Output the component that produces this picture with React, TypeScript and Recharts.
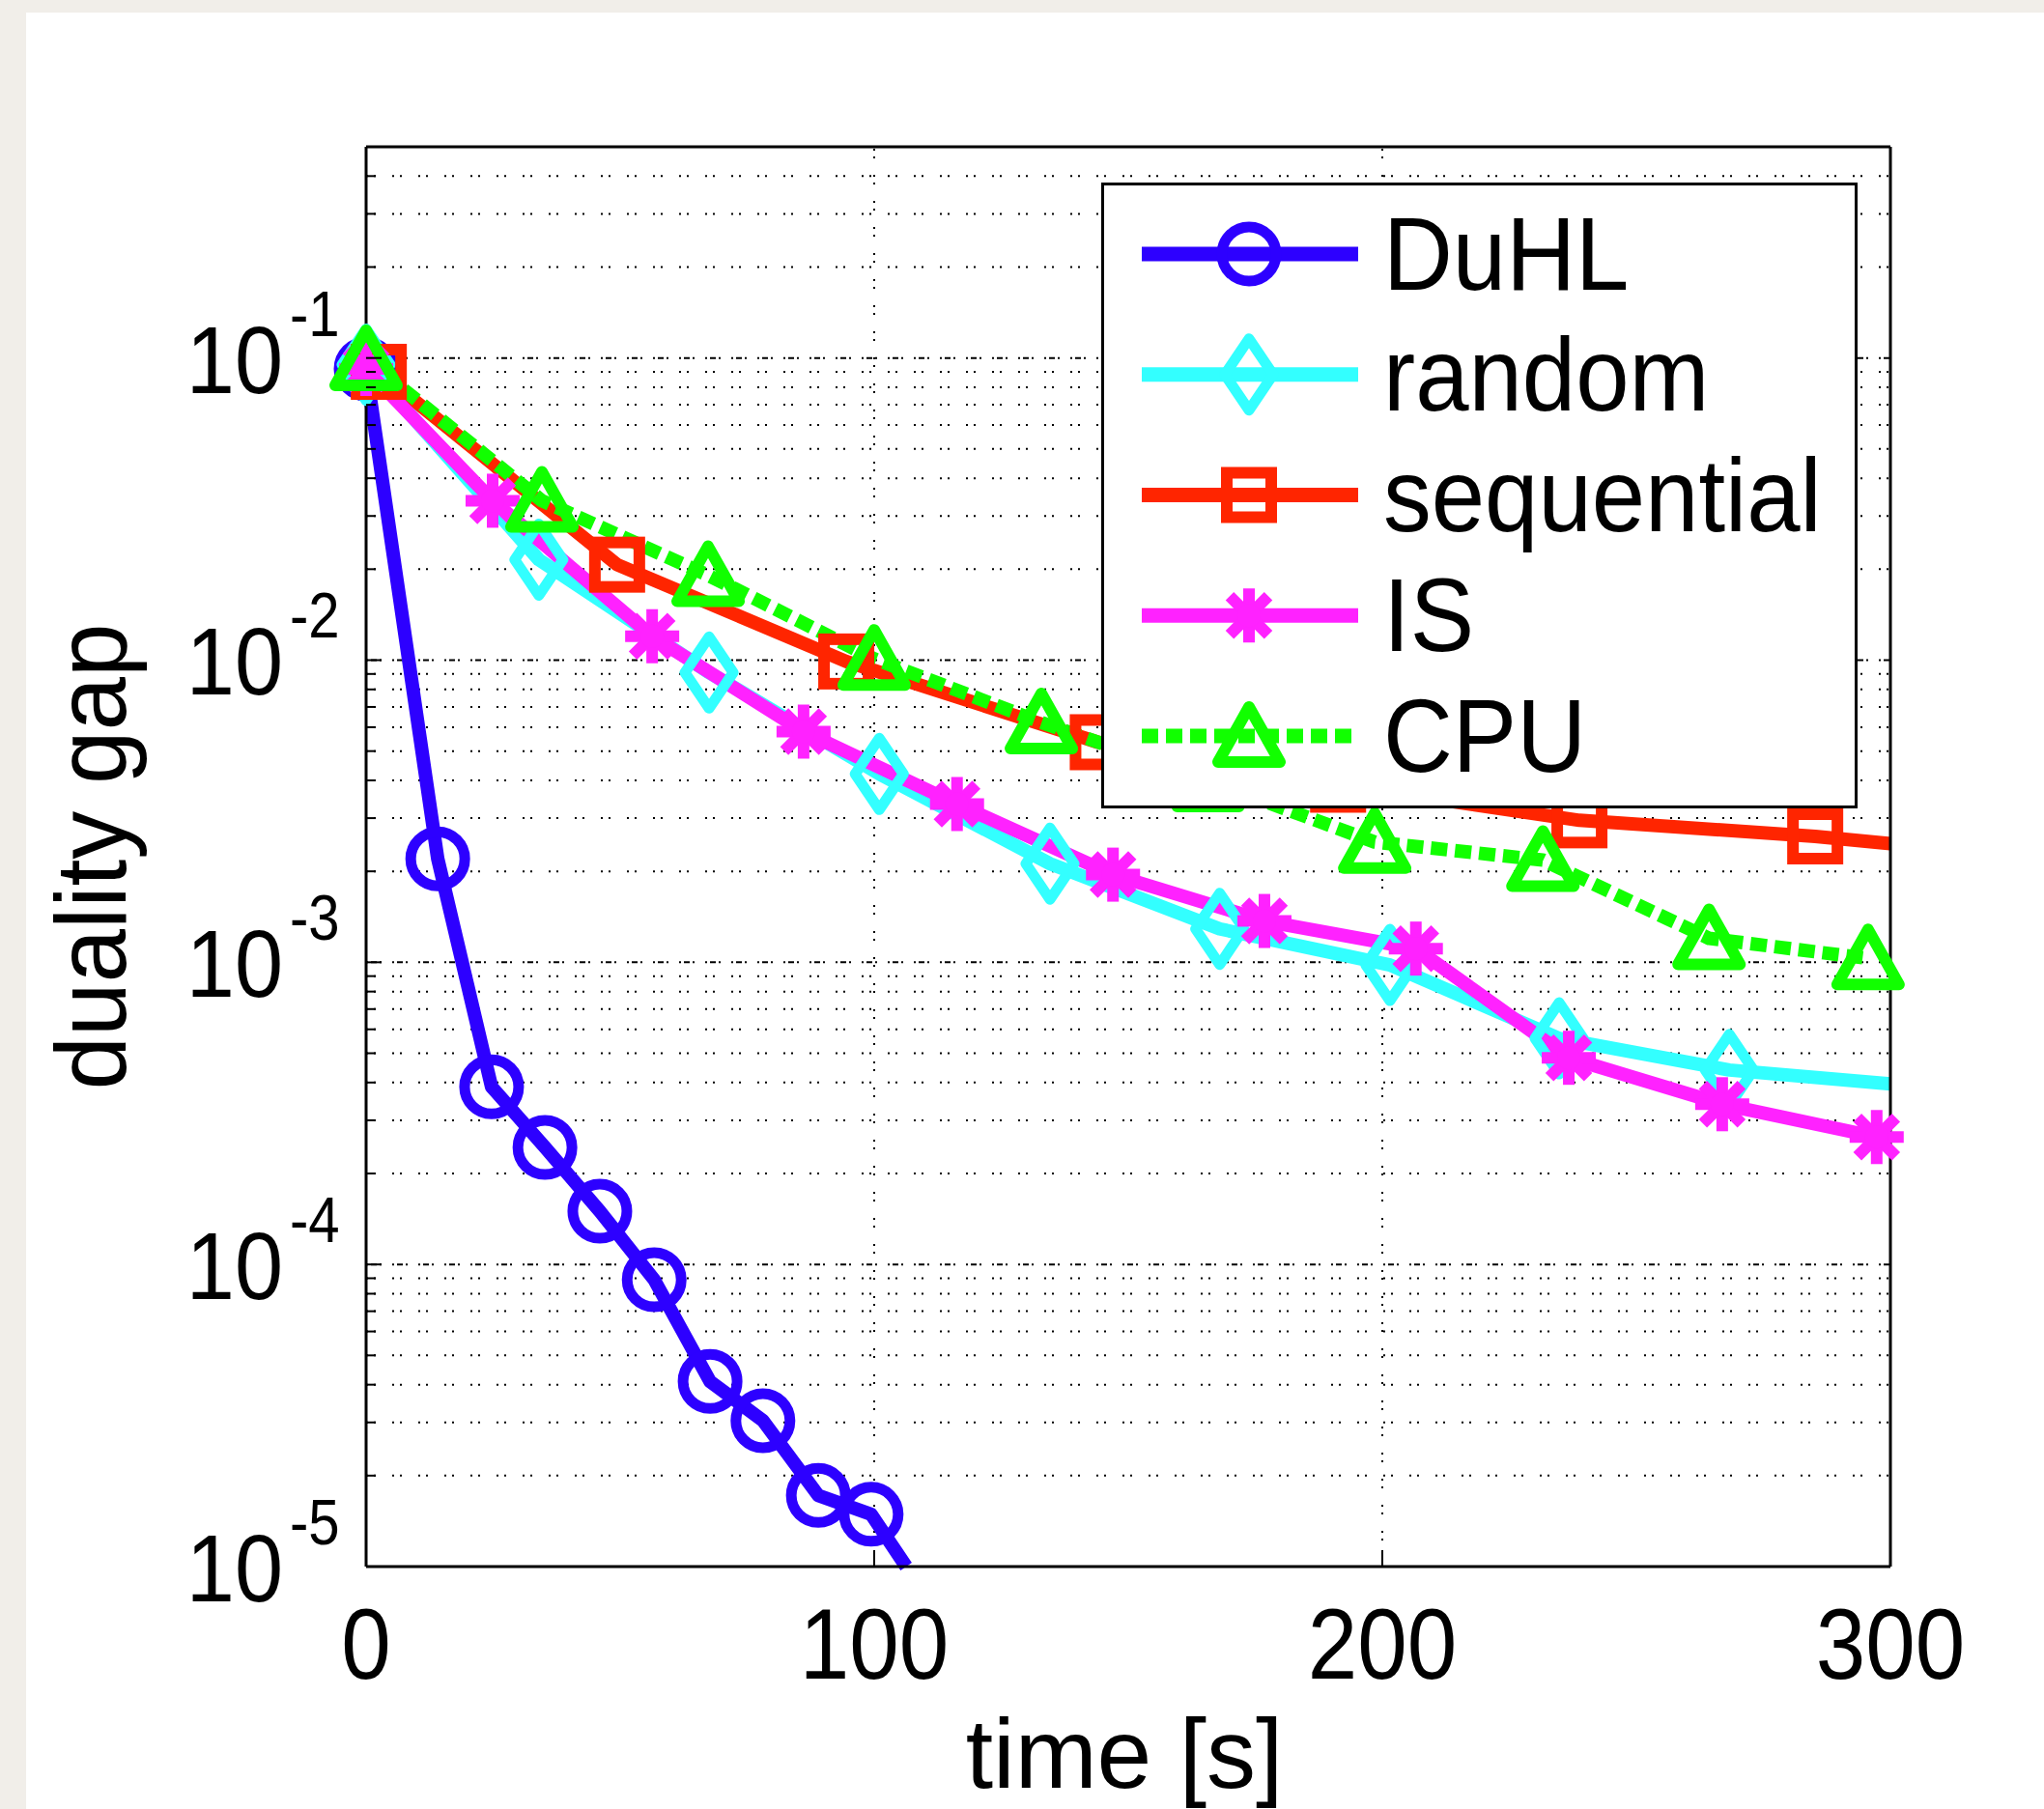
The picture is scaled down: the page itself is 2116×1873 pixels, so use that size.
import React from 'react';
import { LineChart, Line, XAxis, YAxis, ReferenceLine, Legend } from 'recharts';

// ---------------- data ----------------
const duhlTime = [0, 14.1, 24.7, 35.2, 46.0, 56.7, 67.7, 78.1, 89.0, 99.4, 106.3];
const duhlGap = [0.092, 2.2e-3, 3.87e-4, 2.44e-4, 1.5e-4, 8.9e-5, 4.1e-5, 3.04e-5, 1.72e-5, 1.49e-5, 1.0e-5];
const duhlMarked = 10; // last point is where the curve leaves the axes

const randomTime = [0, 34.0, 67.5, 101.0, 134.6, 168.0, 201.5, 234.8, 268.3, 300];
const randomGap = [0.095, 0.0215, 0.0091, 4.2e-3, 2.12e-3, 1.29e-3, 9.8e-4, 5.6e-4, 4.4e-4, 3.96e-4];
const randomMarked = 9;

const sequentialTime = [2.5, 49.4, 94.5, 144.0, 191.3, 238.8, 285.2, 300];
const sequentialGap = [0.09, 0.0207, 0.0099, 5.35e-3, 3.87e-3, 2.95e-3, 2.61e-3, 2.47e-3];
const sequentialMarked = 7;

const isTime = [0, 24.9, 56.3, 86.1, 116.3, 147.0, 176.8, 206.6, 236.7, 266.9, 297.3];
const isGap = [0.092, 0.0337, 0.012, 5.8e-3, 3.34e-3, 1.95e-3, 1.37e-3, 1.11e-3, 4.83e-4, 3.39e-4, 2.64e-4];
const isMarked = 11;

const cpuTime = [0, 34.6, 67.3, 100.0, 132.9, 165.7, 198.5, 231.6, 264.3, 295.6];
const cpuGap = [0.099, 0.0337, 0.0191, 0.0101, 6.22e-3, 4.0e-3, 2.5e-3, 2.18e-3, 1.2e-3, 1.03e-3];
const cpuMarked = 10;

const xTicks = [0, 100, 200, 300];
const xGridTicks = [100, 200];
const decadeTicks = [1e-5, 1e-4, 1e-3, 1e-2, 1e-1];
const minorMultipliers = [2, 3, 4, 5, 6, 7, 8, 9];
const xDomain = [0, 300];
const yDomain = [1e-5, 0.5];

const minorTicks: number[] = [];
decadeTicks.forEach((d) => {
  minorMultipliers.forEach((m) => {
    const v = Number((m * d).toPrecision(3));
    if (v < yDomain[1]) minorTicks.push(v);
  });
});
const allYTicks = [...decadeTicks, ...minorTicks].sort((a, b) => a - b);

// ---------------- style ----------------
const FONT = '"Liberation Sans", Arial, Helvetica, sans-serif';
const BLUE = '#2d00ff';
const CYAN = '#33ffff';
const RED = '#ff2500';
const MAGENTA = '#ff22ff';
const GREEN = '#11ff00';

const toRows = (t: number[], v: number[]) => t.map((tt, i) => ({ t: tt, v: v[i] }));

const series = [
  { name: 'DuHL', data: toRows(duhlTime, duhlGap), marked: duhlMarked, color: BLUE, shape: 'circle', dash: undefined },
  { name: 'random', data: toRows(randomTime, randomGap), marked: randomMarked, color: CYAN, shape: 'diamond', dash: undefined },
  { name: 'sequential', data: toRows(sequentialTime, sequentialGap), marked: sequentialMarked, color: RED, shape: 'square', dash: undefined },
  { name: 'IS', data: toRows(isTime, isGap), marked: isMarked, color: MAGENTA, shape: 'star', dash: undefined },
  { name: 'CPU', data: toRows(cpuTime, cpuGap), marked: cpuMarked, color: GREEN, shape: 'triangle', dash: '17 8' },
];

function Marker({ shape, x, y, color }: { shape: string; x: number; y: number; color: string }) {
  switch (shape) {
    case 'circle':
      return <circle cx={x} cy={y} r={28} fill="none" stroke={color} strokeWidth={11} />;
    case 'diamond':
      return (
        <path d={`M${x},${y - 37}L${x + 25},${y}L${x},${y + 37}L${x - 25},${y}Z`} fill="none" stroke={color} strokeWidth={11} strokeLinejoin="round" />
      );
    case 'square':
      return <rect x={x - 23} y={y - 23} width={46} height={46} fill="none" stroke={color} strokeWidth={12} />;
    case 'triangle':
      return (
        <path d={`M${x},${y - 30}L${x + 32},${y + 27}L${x - 32},${y + 27}Z`} fill="none" stroke={color} strokeWidth={12} strokeLinejoin="round" />
      );
    case 'star':
      return (
        <g stroke={color} strokeWidth={12}>
          <line x1={x} y1={y - 28} x2={x} y2={y + 28} />
          <line x1={x - 28} y1={y} x2={x + 28} y2={y} />
          <line x1={x - 20} y1={y - 20} x2={x + 20} y2={y + 20} />
          <line x1={x - 20} y1={y + 20} x2={x + 20} y2={y - 20} />
          <circle cx={x} cy={y} r={12} fill={color} stroke="none" />
        </g>
      );
    default:
      return null;
  }
}

const makeDot = (shape: string, color: string, marked: number) => (props: any) => {
  const { cx, cy, index } = props;
  if (index >= marked || cx == null || cy == null) return <g key={`e-${shape}-${index}`} />;
  return (
    <g key={`m-${shape}-${index}`}>
      <Marker shape={shape} x={cx} y={cy} color={color} />
    </g>
  );
};

// ---------------- ticks ----------------
const LeftTick = (props: any) => {
  const { x, y, payload } = props;
  const v = payload.value;
  const major = decadeTicks.includes(v);
  const exp = Math.round(Math.log10(v));
  return (
    <g>
      <line x1={x} y1={y} x2={x + (major ? 16 : 10)} y2={y} stroke="#000" strokeWidth={2} />
      {major && (
        <g fill="#000" fontFamily={FONT}>
          <text transform={`translate(${x - 86},${y + 36}) scale(0.91,1)`} textAnchor="end" fontSize={99}>
            10
          </text>
          <text transform={`translate(${x - 79},${y - 23}) scale(0.88,1)`} textAnchor="start" fontSize={66}>
            {`-${-exp}`}
          </text>
        </g>
      )}
    </g>
  );
};

const RightTick = (props: any) => {
  const { x, y, payload } = props;
  const major = decadeTicks.includes(payload.value);
  return <line x1={x} y1={y} x2={x - (major ? 16 : 10)} y2={y} stroke="#000" strokeWidth={2} />;
};

const BottomTick = (props: any) => {
  const { x, y, payload } = props;
  return (
    <g>
      <line x1={x} y1={y} x2={x} y2={y - 17} stroke="#000" strokeWidth={2} />
      <text
        transform={`translate(${x},${y + 116}) scale(0.89,1)`}
        textAnchor="middle"
        fontSize={104}
        fontFamily={FONT}
        fill="#000"
      >
        {payload.value}
      </text>
    </g>
  );
};

const TopTick = (props: any) => {
  const { x, y } = props;
  return <line x1={x} y1={y} x2={x} y2={y + 17} stroke="#000" strokeWidth={2} />;
};

const renderYLabel = (props: any) => {
  const vb = props.viewBox || {};
  const cx = vb.x + 130;
  const cy = vb.y + vb.height / 2;
  return (
    <text
      transform={`translate(${cx},${cy}) rotate(-90) scale(0.97,1)`}
      textAnchor="middle"
      fontSize={103}
      fontFamily={FONT}
      fill="#000"
    >
      duality gap
    </text>
  );
};

const renderXLabel = (props: any) => {
  const vb = props.viewBox || {};
  const cx = vb.x + vb.width / 2 - 4;
  const by = vb.y + 229;
  return (
    <text x={cx} y={by} textAnchor="middle" fontSize={102} fontFamily={FONT} fill="#000">
      time [s]
    </text>
  );
};

// ---------------- legend ----------------
const LegendBox = (props: any) => {
  const payload = props.payload || [];
  const shown = series.filter((s) => payload.length === 0 || payload.some((p: any) => p.value === s.name));
  const W = 783;
  const H = 648;
  return (
    <svg width={W} height={H} style={{ display: 'block' }}>
      <rect x={1.5} y={1.5} width={W - 3} height={H - 3} fill="#fff" stroke="#000" strokeWidth={3} />
      {shown.map((s, i) => {
        const cy = 74 + i * 124.75;
        return (
          <g key={s.name}>
            <line x1={42} y1={cy} x2={266} y2={cy} stroke={s.color} strokeWidth={15} strokeDasharray={s.dash} />
            <Marker shape={s.shape} x={153} y={cy} color={s.color} />
            <text
              transform={`translate(292,${cy + 37}) scale(0.93,1)`}
              fontSize={107}
              fontFamily={FONT}
              fill="#000"
            >
              {s.name}
            </text>
          </g>
        );
      })}
    </svg>
  );
};

const gridDash = '2 6 2 17';
const majorDash = '2 3 6 3 2 11';

export default function App() {
  return (
    <div style={{ position: 'absolute', left: 0, top: 0, width: 2116, height: 1873, background: '#f1eee9', overflow: 'hidden' }}>
      <div style={{ position: 'absolute', left: 27, top: 13, right: 0, bottom: 0, background: '#ffffff' }} />
      <div style={{ position: 'absolute', left: 0, top: 0 }}>
        <LineChart width={2116} height={1873} margin={{ top: 142, right: 149, bottom: 0, left: 0 }}>
          <XAxis
            dataKey="t"
            type="number"
            domain={xDomain}
            ticks={xTicks}
            interval={0}
            height={251}
            tickSize={0}
            tickMargin={0}
            tick={<BottomTick />}
            axisLine={{ stroke: '#000', strokeWidth: 3 }}
            label={renderXLabel}
          />
          <XAxis
            xAxisId="top"
            orientation="top"
            dataKey="t"
            type="number"
            domain={xDomain}
            ticks={xGridTicks}
            interval={0}
            height={10}
            tickSize={0}
            tickMargin={0}
            tick={<TopTick />}
            axisLine={{ stroke: '#000', strokeWidth: 3 }}
          />
          <YAxis
            dataKey="v"
            type="number"
            scale="log"
            domain={yDomain}
            ticks={allYTicks}
            interval={0}
            width={379}
            tickSize={0}
            tickMargin={0}
            tick={<LeftTick />}
            axisLine={{ stroke: '#000', strokeWidth: 3 }}
            label={renderYLabel}
          />
          <YAxis
            yAxisId="right"
            orientation="right"
            dataKey="v"
            type="number"
            scale="log"
            domain={yDomain}
            ticks={allYTicks}
            interval={0}
            width={10}
            tickSize={0}
            tickMargin={0}
            tick={<RightTick />}
            axisLine={{ stroke: '#000', strokeWidth: 3 }}
          />
          {minorTicks.map((v) => (
            <ReferenceLine key={`mg-${v}`} y={v} stroke="#000" strokeWidth={2} strokeDasharray={gridDash} />
          ))}
          {decadeTicks.slice(1).map((v) => (
            <ReferenceLine key={`Mg-${v}`} y={v} stroke="#000" strokeWidth={2} strokeDasharray={majorDash} />
          ))}
          {xGridTicks.map((v) => (
            <ReferenceLine key={`vg-${v}`} x={v} stroke="#000" strokeWidth={2} strokeDasharray={gridDash} />
          ))}
          {series.map((s) => (
            <Line
              key={s.name}
              name={s.name}
              data={s.data}
              dataKey="v"
              type="linear"
              stroke={s.color}
              strokeWidth={14}
              strokeDasharray={s.dash}
              strokeLinejoin="round"
              dot={makeDot(s.shape, s.color, s.marked)}
              activeDot={false}
              isAnimationActive={false}
            />
          ))}
          <Legend
            layout="vertical"
            align="center"
            verticalAlign="middle"
            content={<LegendBox />}
            wrapperStyle={{ position: 'absolute', left: 1140, top: 189, width: 783, height: 648 }}
          />
        </LineChart>
      </div>
    </div>
  );
}
